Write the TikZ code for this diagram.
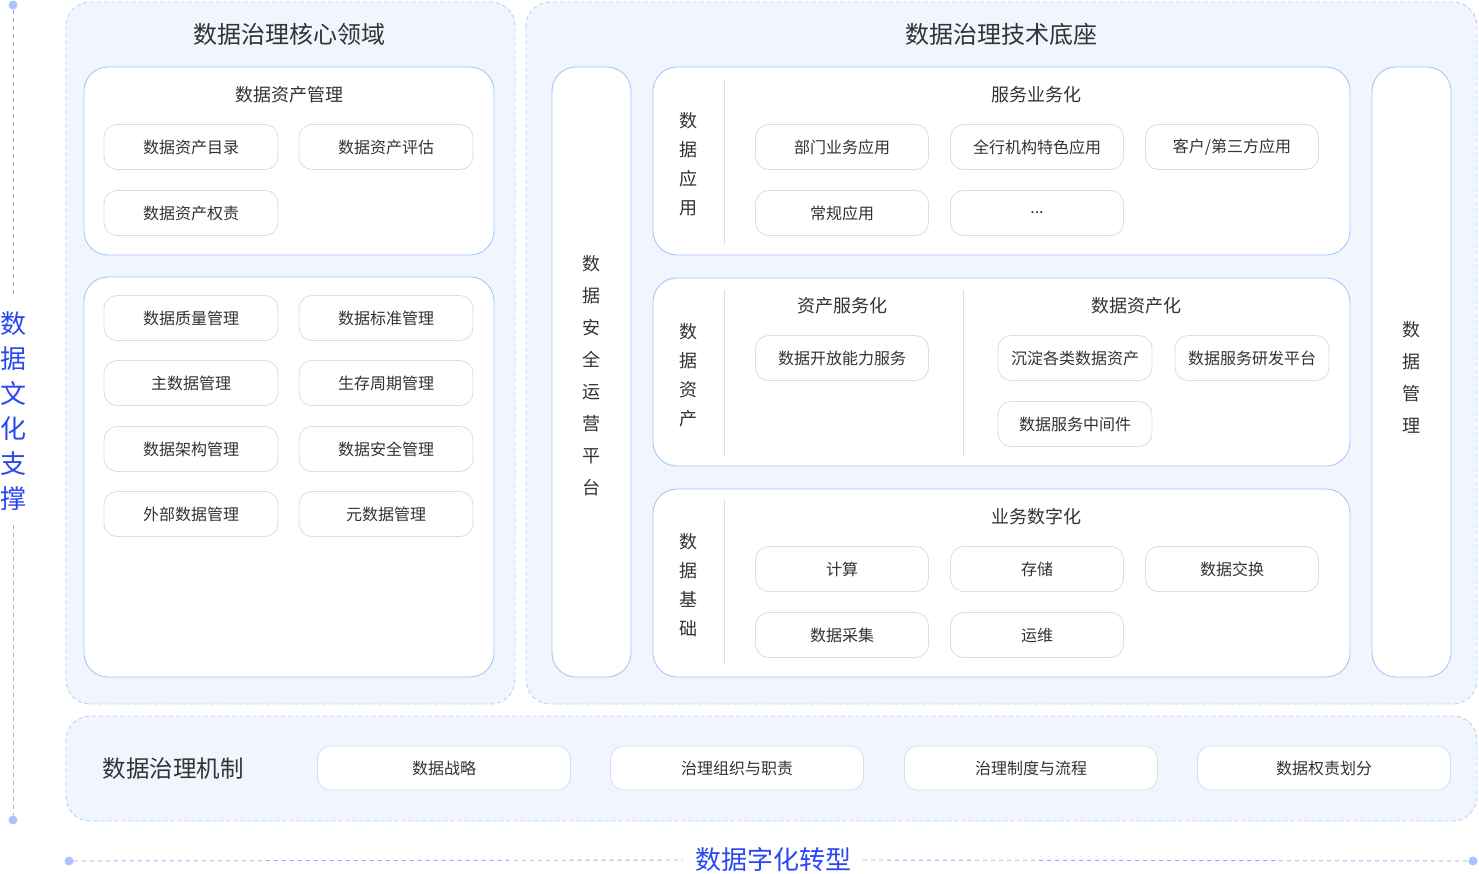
\documentclass[tikz,border=0pt]{standalone}
\usepackage{fontspec}
\setmainfont{Noto Sans CJK SC}
\definecolor{panelfill}{HTML}{F1F6FE}
\definecolor{panelborder}{HTML}{B9D0F8}
\definecolor{boxborder}{HTML}{A9C7FA}
\definecolor{itemborder}{HTML}{D3DEEF}
\definecolor{textgray}{HTML}{333333}
\definecolor{accent}{HTML}{2A48F0}
\definecolor{guide}{HTML}{9AA9F2}
\definecolor{dotc}{HTML}{A8C3FB}
\definecolor{sepc}{HTML}{D3DEEF}
\tikzset{
  panel/.style={draw=panelborder, fill=panelfill, dash pattern=on 4pt off 3pt, rounded corners=24pt, line width=0.9pt},
  box/.style={draw=boxborder, fill=white, rounded corners=24pt, line width=0.9pt},
  item/.style={draw=itemborder, fill=white, rounded corners=13pt, line width=0.8pt, minimum width=174pt, minimum height=45pt, inner sep=0pt, font=\fontsize{16}{19}\selectfont, text=textgray},
  bigtitle/.style={font=\fontsize{24}{28}\selectfont, text=textgray, inner sep=0pt},
  mechtitle/.style={font=\fontsize{23.5}{28}\selectfont, text=textgray, inner sep=0pt},
  subtitle/.style={font=\fontsize{18}{21}\selectfont, text=textgray, inner sep=0pt},
  vlabel/.style={font=\fontsize{18}{29}\selectfont, text=textgray, align=center, inner sep=0pt},
  vlabelw/.style={font=\fontsize{18}{32}\selectfont, text=textgray, align=center, inner sep=0pt},
  sepline/.style={draw=sepc, line width=0.8pt},
  guideline/.style={draw=guide, line width=0.9pt, dash pattern=on 4pt off 4pt},
  gdot/.style={circle, fill=dotc, minimum size=9pt, inner sep=0pt},
  bluetext/.style={font=\fontsize{26}{35}\selectfont, text=accent, align=center},
}
\begin{document}
\begin{tikzpicture}[x=1pt,y=-1pt]
\useasboundingbox (0,0) rectangle (1479,873);

% guides
\node[gdot] (vtop) at (13,5) {};
\node[gdot] (vbot) at (13,820) {};
\node[bluetext, inner xsep=2pt, inner ysep=14pt] (vlab) at (13,411) {数\\据\\文\\化\\支\\撑};
\draw[guideline] (vtop) -- (vlab.north);
\draw[guideline] (vlab.south) -- (vbot);
\node[gdot] (hleft) at (69,861) {};
\node[gdot] (hright) at (1473,861) {};
\node[bluetext, inner xsep=12pt, inner ysep=2pt] (hlab) at (773,860) {数据字化转型};
\draw[guideline] (hleft) -- (hlab.west);
\draw[guideline] (hlab.east) -- (hright);

% panels
\path[panel] (66,2) rectangle (515,704);
\path[panel] (526,2) rectangle (1477,704);
\path[panel] (66,716) rectangle (1477,821);

\node[bigtitle] (t1) at (289,34) {数据治理核心领域};
\node[bigtitle] (t2) at (1001,34) {数据治理技术底座};

% left boxes
\path[box] (84,67) rectangle (494,255);
\node[subtitle] (s1) at (289,95) {数据资产管理};
\node[item] (a1) at (191,147) {数据资产目录};
\node[item] (a2) at (386,147) {数据资产评估};
\node[item] (a3) at (191,213) {数据资产权责};

\path[box] (84,277) rectangle (494,677);
\node[item] (b1) at (191,318) {数据质量管理};
\node[item] (b2) at (386,318) {数据标准管理};
\node[item] (b3) at (191,383) {主数据管理};
\node[item] (b4) at (386,383) {生存周期管理};
\node[item] (b5) at (191,449) {数据架构管理};
\node[item] (b6) at (386,449) {数据安全管理};
\node[item] (b7) at (191,514) {外部数据管理};
\node[item] (b8) at (386,514) {元数据管理};

% right columns
\path[box] (552,67) rectangle (631,677);
\node[vlabelw] (c1) at (591,376) {数\\据\\安\\全\\运\\营\\平\\台};
\path[box] (1372,67) rectangle (1451,677);
\node[vlabelw] (c2) at (1411,377) {数\\据\\管\\理};

% data application
\path[box] (653,67) rectangle (1350,255);
\node[vlabel] (l1) at (688,164) {数\\据\\应\\用};
\draw[sepline] (724,80) -- (724,244);
\node[subtitle] (s2) at (1036,95) {服务业务化};
\node[item, minimum width=173pt] (d1) at (842,147) {部门业务应用};
\node[item, minimum width=173pt] (d2) at (1037,147) {全行机构特色应用};
\node[item, minimum width=173pt] (d3) at (1232,147) {客户/第三方应用};
\node[item, minimum width=173pt] (d4) at (842,213) {常规应用};
\node[item, minimum width=173pt] (d5) at (1037,213) {...};

% data assets
\path[box] (653,278) rectangle (1350,466);
\node[vlabel] (l2) at (688,375) {数\\据\\资\\产};
\draw[sepline] (724,290) -- (724,455);
\draw[sepline] (963,290) -- (963,455);
\node[subtitle] (s3) at (842,306) {资产服务化};
\node[subtitle] (s4) at (1136,306) {数据资产化};
\node[item, minimum width=173pt] (e1) at (842,358) {数据开放能力服务};
\node[item, minimum width=154pt] (e2) at (1075,358) {沉淀各类数据资产};
\node[item, minimum width=154pt] (e3) at (1252,358) {数据服务研发平台};
\node[item, minimum width=154pt] (e4) at (1075,424) {数据服务中间件};

% data foundation
\path[box] (653,489) rectangle (1350,677);
\node[vlabel] (l3) at (688,585) {数\\据\\基\\础};
\draw[sepline] (724,500) -- (724,665);
\node[subtitle] (s5) at (1036,517) {业务数字化};
\node[item, minimum width=173pt] (f1) at (842,569) {计算};
\node[item, minimum width=173pt] (f2) at (1037,569) {存储};
\node[item, minimum width=173pt] (f3) at (1232,569) {数据交换};
\node[item, minimum width=173pt] (f4) at (842,635) {数据采集};
\node[item, minimum width=173pt] (f5) at (1037,635) {运维};

% mechanism
\node[mechtitle] (t3) at (173,769) {数据治理机制};
\node[item, minimum width=253pt, minimum height=44pt] (g1) at (444,768) {数据战略};
\node[item, minimum width=253pt, minimum height=44pt] (g2) at (737,768) {治理组织与职责};
\node[item, minimum width=253pt, minimum height=44pt] (g3) at (1031,768) {治理制度与流程};
\node[item, minimum width=253pt, minimum height=44pt] (g4) at (1324,768) {数据权责划分};
\end{tikzpicture}
\end{document}
